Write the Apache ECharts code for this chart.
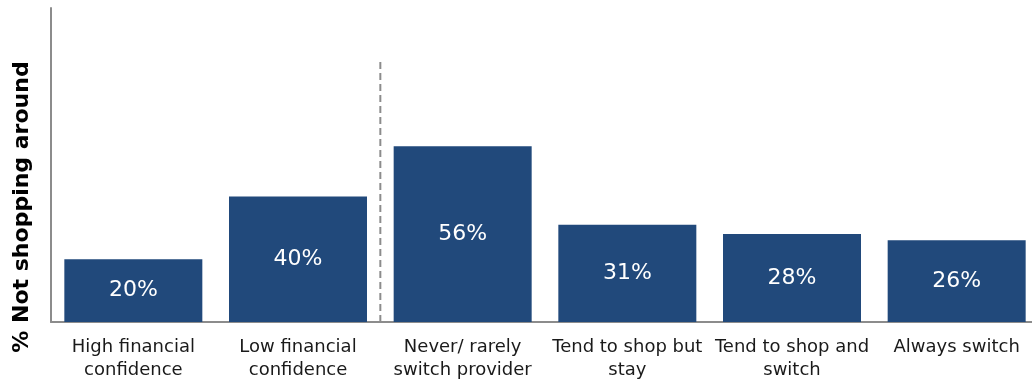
<!DOCTYPE html>
<html>
<head>
<meta charset="utf-8">
<script src="https://cdn.jsdelivr.net/npm/echarts@6/dist/echarts.min.js"></script>
<style>
  html, body { margin: 0; padding: 0; background: #fff; overflow: hidden; }
  /* the plot runs slightly past the right edge of the page */
  #chart { width: 1039px; height: 382px; }
</style>
</head>
<body>
<div id="chart"></div>
<script>
// Share of respondents not shopping around, by segment
const categories = [
  'High financial\nconfidence',
  'Low financial\nconfidence',
  'Never/ rarely\nswitch provider',
  'Tend to shop but\nstay',
  'Tend to shop and\nswitch',
  'Always switch'
];
const notShoppingPct = [20, 40, 56, 31, 28, 26];

// Divider between the confidence groups and the switching groups
const dividerAt = 2;      // boundary after the second category
const dividerTop = 83;    // height of the divider on the % scale

const axisName = '% Not shopping around';
const barColor = '#21497B';
const axisColor = '#8C8C8C';
const font = '"DejaVu Sans", Verdana, sans-serif';

const chart = echarts.init(document.getElementById('chart'), null, { renderer: 'canvas' });

chart.setOption({
  animation: false,
  grid: { left: 51, top: 8, bottom: 60, right: 0, containLabel: false },
  xAxis: [
    {
      type: 'category',
      data: categories,
      axisLine: { show: true, lineStyle: { color: axisColor, width: 2 } },
      axisTick: { show: false },
      axisLabel: {
        interval: 0,
        margin: 14,
        color: '#1a1a1a',
        fontFamily: font,
        fontSize: 18,
        lineHeight: 23
      }
    },
    {
      type: 'value',
      min: 0,
      max: categories.length,
      show: false
    }
  ],
  yAxis: {
    type: 'value',
    min: 0,
    max: 100,
    axisLine: { show: true, lineStyle: { color: axisColor, width: 2 } },
    axisTick: { show: false },
    axisLabel: { show: false },
    splitLine: { show: false }
  },
  graphic: [
    {
      type: 'text',
      x: 22,
      y: 207,
      rotation: Math.PI / 2,
      style: {
        text: axisName,
        fontFamily: font,
        fontWeight: 'bold',
        fontSize: 22,
        fill: '#000',
        align: 'center',
        verticalAlign: 'middle'
      }
    }
  ],
  series: [
    {
      type: 'bar',
      data: notShoppingPct,
      barWidth: 138,
      itemStyle: { color: barColor },
      label: {
        show: true,
        position: 'inside',
        formatter: '{c}%',
        color: '#fff',
        fontFamily: font,
        fontSize: 22
      }
    },
    {
      type: 'line',
      xAxisIndex: 1,
      data: [[dividerAt, 0], [dividerAt, dividerTop]],
      symbol: 'none',
      silent: true,
      lineStyle: { color: axisColor, width: 2, type: [7, 4] }
    }
  ]
});
</script>
</body>
</html>
